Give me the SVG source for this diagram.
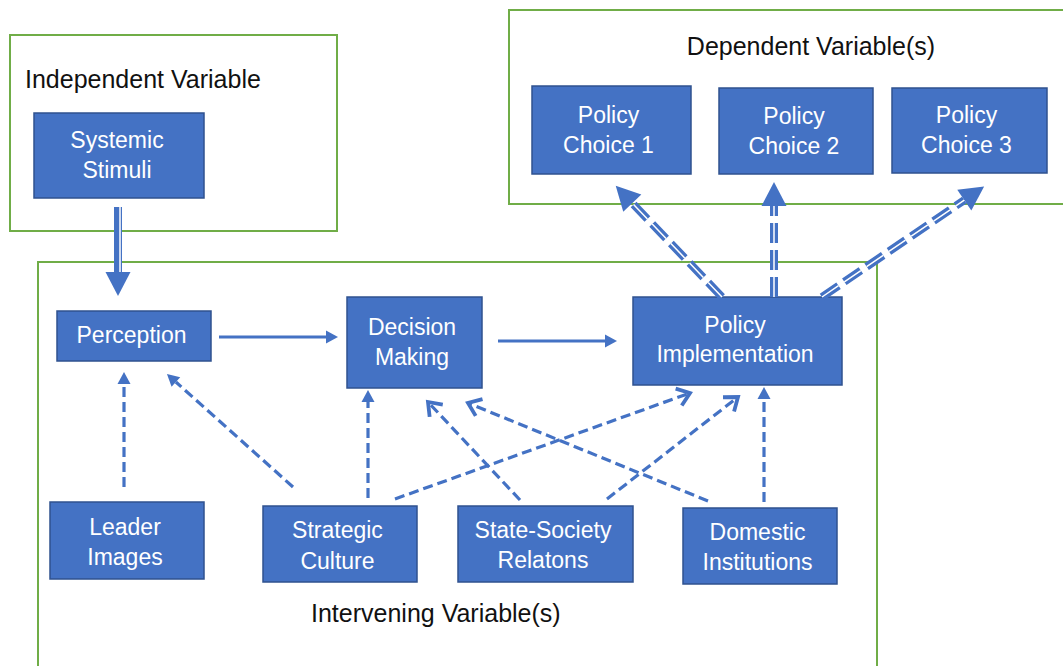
<svg xmlns="http://www.w3.org/2000/svg" width="1063" height="666" viewBox="0 0 1063 666">
  <style>
    .frame { fill: none; stroke: #70AD47; stroke-width: 2; }
    .box { fill: #4472C4; stroke: #2F528F; stroke-width: 1.5; }
    .title { font-family: "Liberation Sans", Arial, sans-serif; font-size: 25px; fill: #111111; }
    .label { font-family: "Liberation Sans", Arial, sans-serif; font-size: 23px; fill: #FFFFFF; text-anchor: middle; }
    .solid { fill: none; stroke: #4472C4; stroke-width: 3; }
    .dash { fill: none; stroke: #4472C4; stroke-width: 3.2; stroke-dasharray: 10 5; }
    .dbl { fill: none; stroke: #4472C4; stroke-width: 8; stroke-dasharray: 20 7; }
    .dbl-core { fill: none; stroke: #FFFFFF; stroke-width: 1.5; stroke-dasharray: 20 7; }
    .thick { fill: none; stroke: #4472C4; stroke-width: 8; }
    .thick-core { fill: none; stroke: #FFFFFF; stroke-width: 1.5; }
  </style>
  <defs>
    <!-- filled triangle head, small -->
    <marker id="tri" markerUnits="userSpaceOnUse" markerWidth="30" markerHeight="30" refX="0" refY="0" orient="auto" overflow="visible">
      <path d="M0,-6.5 L12,0 L0,6.5 z" fill="#4472C4"/>
    </marker>
    <!-- open chevron head -->
    <marker id="chev" markerUnits="userSpaceOnUse" markerWidth="30" markerHeight="30" refX="0" refY="0" orient="auto" overflow="visible">
      <path d="M-12,-9 L0,0 L-12,9" fill="none" stroke="#4472C4" stroke-width="3.8" stroke-linejoin="miter"/>
    </marker>
    <!-- large filled head for the block arrows -->
    <marker id="big" markerUnits="userSpaceOnUse" markerWidth="40" markerHeight="40" refX="0" refY="0" orient="auto" overflow="visible">
      <path d="M0,-12.5 L24,0 L0,12.5 z" fill="#4472C4"/>
    </marker>
  </defs>

  <rect width="1063" height="666" fill="#FFFFFF"/>

  <!-- variable frames -->
  <g id="independent-variable">
    <rect class="frame" x="10" y="35" width="327" height="196"/>
    <text class="title" x="25" y="88">Independent Variable</text>
  </g>
  <g id="dependent-variables">
    <rect class="frame" x="509" y="10" width="600" height="194"/>
    <text class="title" x="811" y="55" text-anchor="middle">Dependent Variable(s)</text>
  </g>
  <g id="intervening-variables">
    <rect class="frame" x="38" y="262" width="839" height="500"/>
    <text class="title" x="311" y="622">Intervening Variable(s)</text>
  </g>

  <!-- nodes -->
  <g id="systemic-stimuli">
    <rect class="box" x="34" y="113" width="170" height="85"/>
    <text class="label" x="117" y="148">Systemic</text>
    <text class="label" x="117" y="178">Stimuli</text>
  </g>
  <g id="perception">
    <rect class="box" x="57" y="311" width="154" height="50"/>
    <text class="label" x="131.5" y="343">Perception</text>
  </g>
  <g id="decision-making">
    <rect class="box" x="347" y="297" width="135" height="91"/>
    <text class="label" x="412" y="335">Decision</text>
    <text class="label" x="412" y="365">Making</text>
  </g>
  <g id="policy-implementation">
    <rect class="box" x="633" y="297" width="209" height="88"/>
    <text class="label" x="735" y="333">Policy</text>
    <text class="label" x="735" y="362">Implementation</text>
  </g>
  <g id="policy-choice-1">
    <rect class="box" x="532" y="86" width="159" height="88"/>
    <text class="label" x="608.5" y="123">Policy</text>
    <text class="label" x="608.5" y="153">Choice 1</text>
  </g>
  <g id="policy-choice-2">
    <rect class="box" x="719" y="88" width="154" height="86"/>
    <text class="label" x="794" y="124">Policy</text>
    <text class="label" x="794" y="154">Choice 2</text>
  </g>
  <g id="policy-choice-3">
    <rect class="box" x="892" y="88" width="155" height="85"/>
    <text class="label" x="966.5" y="123">Policy</text>
    <text class="label" x="966.5" y="153">Choice 3</text>
  </g>
  <g id="leader-images">
    <rect class="box" x="50" y="502" width="154" height="77"/>
    <text class="label" x="125" y="535">Leader</text>
    <text class="label" x="125" y="565">Images</text>
  </g>
  <g id="strategic-culture">
    <rect class="box" x="263" y="506" width="154" height="76"/>
    <text class="label" x="337.5" y="538">Strategic</text>
    <text class="label" x="337.5" y="569">Culture</text>
  </g>
  <g id="state-society-relations">
    <rect class="box" x="458" y="506" width="175" height="76"/>
    <text class="label" x="543" y="538">State-Society</text>
    <text class="label" x="543" y="568">Relatons</text>
  </g>
  <g id="domestic-institutions">
    <rect class="box" x="683" y="508" width="154" height="76"/>
    <text class="label" x="757.5" y="540">Domestic</text>
    <text class="label" x="757.5" y="570">Institutions</text>
  </g>

  <!-- connectors -->
  <g id="connectors">
    <!-- systemic stimuli into perception -->
    <line class="thick" x1="118" y1="207" x2="118" y2="272" marker-end="url(#big)"/>
    <line class="thick-core" x1="120" y1="207" x2="120" y2="272"/>

    <!-- main chain -->
    <line class="solid" x1="219" y1="337" x2="326" y2="337" marker-end="url(#tri)"/>
    <line class="solid" x1="498" y1="341" x2="605" y2="341" marker-end="url(#tri)"/>

    <!-- policy implementation to policy choices -->
    <line class="dbl" x1="722" y1="297" x2="632.3" y2="203.1" marker-end="url(#big)"/>
    <line class="dbl-core" x1="722" y1="297" x2="632.3" y2="203.1"/>
    <line class="dbl" x1="774" y1="297" x2="774" y2="206" marker-end="url(#big)"/>
    <line class="dbl-core" x1="774" y1="297" x2="774" y2="206"/>
    <line class="dbl" x1="822" y1="297" x2="964.3" y2="200.1" marker-end="url(#big)"/>
    <line class="dbl-core" x1="822" y1="297" x2="964.3" y2="200.1"/>

    <!-- intervening influences, filled heads -->
    <line class="dash" x1="124" y1="487" x2="124" y2="384" marker-end="url(#tri)"/>
    <line class="dash" x1="293" y1="487" x2="175.9" y2="382" marker-end="url(#tri)"/>
    <line class="dash" x1="368" y1="498" x2="368" y2="402" marker-end="url(#tri)"/>
    <line class="dash" x1="764" y1="502" x2="764" y2="399" marker-end="url(#tri)"/>

    <!-- intervening influences, open heads -->
    <line class="dash" x1="395" y1="499" x2="690" y2="393" marker-end="url(#chev)"/>
    <line class="dash" x1="520" y1="500" x2="428" y2="402" marker-end="url(#chev)"/>
    <line class="dash" x1="607" y1="499" x2="738" y2="397" marker-end="url(#chev)"/>
    <line class="dash" x1="708" y1="501" x2="468" y2="403" marker-end="url(#chev)"/>
  </g>
</svg>
